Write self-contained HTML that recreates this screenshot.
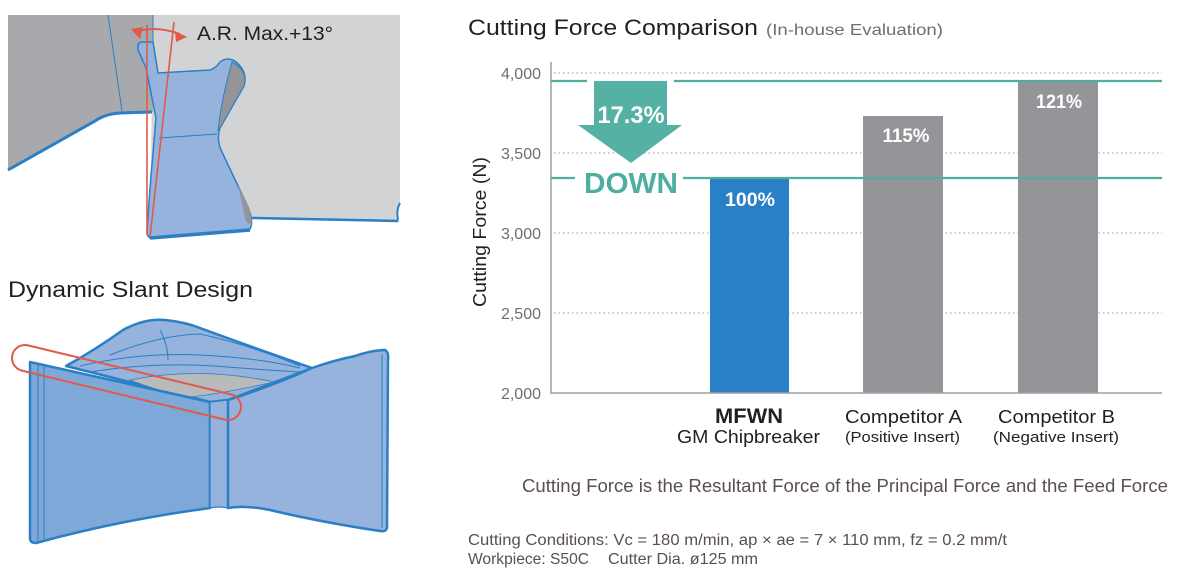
<!DOCTYPE html>
<html>
<head>
<meta charset="utf-8">
<style>
  html,body{margin:0;padding:0;background:#fff;}
  body{width:1200px;height:575px;overflow:hidden;}
  svg{display:block;}
  text{font-family:"Liberation Sans",sans-serif;}
</style>
</head>
<body>
<svg width="1200" height="575" viewBox="0 0 1200 575" xmlns="http://www.w3.org/2000/svg">
  <!-- ===== LEFT TOP ILLUSTRATION ===== -->
  <!-- light gray body -->
  <path d="M153,15 L400,15 L400,203 Q396,210 398,218 L400,222 L252,218 L150,238 L153,15 Z" fill="#d1d3d4"/>
  <!-- dark gray region -->
  <path d="M8,15 L153,15 L153,112 L118,113 Q104,114 95,120 L8,170 Z" fill="#a7a9ac"/>
  <line x1="108" y1="15" x2="122" y2="111" stroke="#2b7fc5" stroke-width="1"/>
  <line x1="153" y1="15" x2="153" y2="42" stroke="#2b7fc5" stroke-width="1"/>
  <path d="M8,170 L95,121 Q105,114 120,113 L152,112" fill="none" stroke="#2b7fc5" stroke-width="3"/>
  <!-- right boundary notch -->
  <path d="M252,218 L398,221" fill="none" stroke="#2b7fc5" stroke-width="2.5"/>
  <path d="M400,203 Q396,210 398,220" fill="none" stroke="#2b7fc5" stroke-width="2"/>
  <!-- insert -->
  <path d="M141,42 L153,42 L158,73 L210,70 Q216,68 220,62 Q228,56 236,62 Q248,72 244,86 L220,128 Q216,140 222,152 L248,207 Q254,222 250,229 L150,238 Q147,236 147,232 L150,188 L156,118 L146,68 L138,50 Q137,43 141,42 Z" fill="#95b3dd" stroke="#2b7fc5" stroke-width="1.5"/>
  <!-- dark sliver right side -->
  <path d="M232,62 Q248,70 244,86 L220,128 L218,130 Q222,96 232,62 Z" fill="#939598" stroke="#2b7fc5" stroke-width="1"/>
  <path d="M238,185 L250,210 L252,225 L246,222 Z" fill="#939598"/>
  <line x1="159" y1="138" x2="217" y2="134" stroke="#2b7fc5" stroke-width="1"/>
  <path d="M150,238 L250,230" fill="none" stroke="#2b7fc5" stroke-width="3.5"/>
  <!-- red angle lines -->
  <line x1="147" y1="25" x2="147" y2="235" stroke="#e05a4b" stroke-width="1.6"/>
  <line x1="174" y1="22" x2="150" y2="237" stroke="#e05a4b" stroke-width="1.6"/>
  <path d="M138,31 Q158,26 180,34" fill="none" stroke="#e05a4b" stroke-width="1.8"/>
  <polygon points="131,29 143,27 140,39" fill="#e05a4b"/>
  <polygon points="187,37 175,31 176,42" fill="#e05a4b"/>
  <text x="197" y="40" font-size="19" fill="#231f20" textLength="136" lengthAdjust="spacingAndGlyphs">A.R. Max.+13°</text>

  <!-- ===== LEFT BOTTOM ILLUSTRATION ===== -->
  <text x="8" y="297" font-size="22" fill="#231f20" textLength="245" lengthAdjust="spacingAndGlyphs">Dynamic Slant Design</text>
  <!-- top face -->
  <path d="M66,366 Q95,350 123,330 Q145,318 165,320 Q185,322 200,328 Q260,350 312,368 L228,400 L210,402 Z" fill="#95b3dd" stroke="#2b7fc5" stroke-width="2.5" stroke-linejoin="round"/>
  <path d="M160,330 Q168,345 168,360" fill="none" stroke="#2b7fc5" stroke-width="1"/>
  <path d="M80,366 Q140,352 200,355 Q260,358 300,368" fill="none" stroke="#2b7fc5" stroke-width="1"/>
  <path d="M90,372 Q150,362 215,366 Q265,370 300,372" fill="none" stroke="#2b7fc5" stroke-width="1"/>
  <path d="M110,355 Q160,335 200,334 Q250,345 300,366" fill="none" stroke="#2b7fc5" stroke-width="1"/>
  <!-- gray lens -->
  <path d="M130,380 Q200,366 274,382 Q220,394 190,397 Q160,392 130,380 Z" fill="#b9babc" stroke="#2b7fc5" stroke-width="0.8"/>
  <!-- left face -->
  <path d="M30,362 L210,402 L210,508 Q120,520 36,543 Q30,543 30,538 Z" fill="#7ea8d7" stroke="#2b7fc5" stroke-width="2.5" stroke-linejoin="round"/>
  <line x1="38" y1="364" x2="38" y2="541" stroke="#2b7fc5" stroke-width="1"/>
  <line x1="44" y1="366" x2="44" y2="539" stroke="#2b7fc5" stroke-width="1"/>
  <!-- strip -->
  <path d="M210,402 L228,400 L228,508 Q219,506 210,508 Z" fill="#95b3dd" stroke="#2b7fc5" stroke-width="1.2"/>
  <!-- right face -->
  <path d="M228,400 Q275,385 312,368 Q335,360 355,356 Q372,350 385,350 Q389,352 388,360 L387,528 Q386,532 380,531 Q320,522 270,510 Q245,505 228,508 Z" fill="#95b3dd" stroke="#2b7fc5" stroke-width="2.5" stroke-linejoin="round"/>
  <line x1="382" y1="354" x2="382" y2="528" stroke="#2b7fc5" stroke-width="1"/>
  <!-- red stadium -->
  <rect x="9.1" y="369.5" width="234.8" height="26" rx="13" ry="13" fill="none" stroke="#e05a4b" stroke-width="2" transform="rotate(13.57 126.5 382.5)"/>

  <!-- ===== CHART ===== -->
  <text x="468" y="35" font-size="22" fill="#231f20" textLength="290" lengthAdjust="spacingAndGlyphs">Cutting Force Comparison</text>
  <text x="766" y="35" font-size="16" fill="#6d6e71" textLength="177" lengthAdjust="spacingAndGlyphs">(In-house Evaluation)</text>

  <!-- grid -->
  <g stroke="#a7a9ac" stroke-width="1.3" stroke-dasharray="1.5 3">
    <line x1="554" y1="73" x2="1162" y2="73"/>
    <line x1="554" y1="153" x2="1162" y2="153"/>
    <line x1="554" y1="233" x2="1162" y2="233"/>
    <line x1="554" y1="313" x2="1162" y2="313"/>
  </g>

  <!-- tick labels -->
  <g font-size="16" fill="#6d6e71" text-anchor="end">
    <text x="541" y="79">4,000</text>
    <text x="541" y="159">3,500</text>
    <text x="541" y="239">3,000</text>
    <text x="541" y="319">2,500</text>
    <text x="541" y="399">2,000</text>
  </g>
  <text transform="translate(486 232) rotate(-90)" font-size="18" fill="#231f20" text-anchor="middle" textLength="150" lengthAdjust="spacingAndGlyphs">Cutting Force (N)</text>

  <!-- bars -->
  <rect x="710" y="178" width="79" height="215" fill="#2a80c6"/>
  <rect x="863" y="116" width="80" height="277" fill="#939598"/>
  <rect x="1018" y="81" width="80" height="312" fill="#939598"/>

  <!-- axes -->
  <line x1="551" y1="62" x2="551" y2="394" stroke="#9d9fa2" stroke-width="1.5"/>
  <line x1="551" y1="393" x2="1162" y2="393" stroke="#9d9fa2" stroke-width="1.5"/>

  <!-- teal lines -->
  <g stroke="#4fae9f" stroke-width="2.2">
    <line x1="551" y1="81" x2="587" y2="81"/>
    <line x1="674" y1="81" x2="1162" y2="81"/>
    <line x1="551" y1="178" x2="575" y2="178"/>
    <line x1="683" y1="178" x2="1162" y2="178"/>
  </g>

  <!-- arrow -->
  <path d="M594,81 L667,81 L667,125 L682,125 L631,163 L578,125 L594,125 Z" fill="#55b1a3"/>
  <text x="631" y="123" font-size="24" font-weight="bold" fill="#fff" text-anchor="middle" textLength="67" lengthAdjust="spacingAndGlyphs">17.3%</text>
  <text x="631" y="193" font-size="29" font-weight="bold" fill="#4fae9f" text-anchor="middle" textLength="94" lengthAdjust="spacingAndGlyphs">DOWN</text>

  <!-- bar labels -->
  <g font-size="19" font-weight="bold" fill="#fff" text-anchor="middle">
    <text x="750" y="206" textLength="50" lengthAdjust="spacingAndGlyphs">100%</text>
    <text x="906" y="142" textLength="47" lengthAdjust="spacingAndGlyphs">115%</text>
    <text x="1059" y="108" textLength="46" lengthAdjust="spacingAndGlyphs">121%</text>
  </g>

  <!-- categories -->
  <text x="749" y="423" font-size="21" font-weight="bold" fill="#231f20" text-anchor="middle" textLength="68" lengthAdjust="spacingAndGlyphs">MFWN</text>
  <text x="748.5" y="443" font-size="18" fill="#231f20" text-anchor="middle" textLength="143" lengthAdjust="spacingAndGlyphs">GM Chipbreaker</text>
  <text x="903.5" y="423" font-size="18" fill="#231f20" text-anchor="middle" textLength="117" lengthAdjust="spacingAndGlyphs">Competitor A</text>
  <text x="902.5" y="442" font-size="15" fill="#231f20" text-anchor="middle" textLength="115" lengthAdjust="spacingAndGlyphs">(Positive Insert)</text>
  <text x="1056.5" y="423" font-size="18" fill="#231f20" text-anchor="middle" textLength="117" lengthAdjust="spacingAndGlyphs">Competitor B</text>
  <text x="1056" y="442" font-size="15" fill="#231f20" text-anchor="middle" textLength="126" lengthAdjust="spacingAndGlyphs">(Negative Insert)</text>

  <!-- footnotes -->
  <text x="522" y="492" font-size="18" fill="#5a4f4d" textLength="646" lengthAdjust="spacingAndGlyphs">Cutting Force is the Resultant Force of the Principal Force and the Feed Force</text>
  <text x="468" y="545" font-size="15.5" fill="#5a4f4d" textLength="539" lengthAdjust="spacingAndGlyphs">Cutting Conditions: Vc = 180 m/min, ap × ae = 7 × 110 mm, fz = 0.2 mm/t</text>
  <text x="468" y="564" font-size="15.5" fill="#5a4f4d" textLength="121" lengthAdjust="spacingAndGlyphs">Workpiece: S50C</text>
  <text x="608" y="564" font-size="15.5" fill="#5a4f4d" textLength="150" lengthAdjust="spacingAndGlyphs">Cutter Dia. ø125 mm</text>
</svg>
</body>
</html>
